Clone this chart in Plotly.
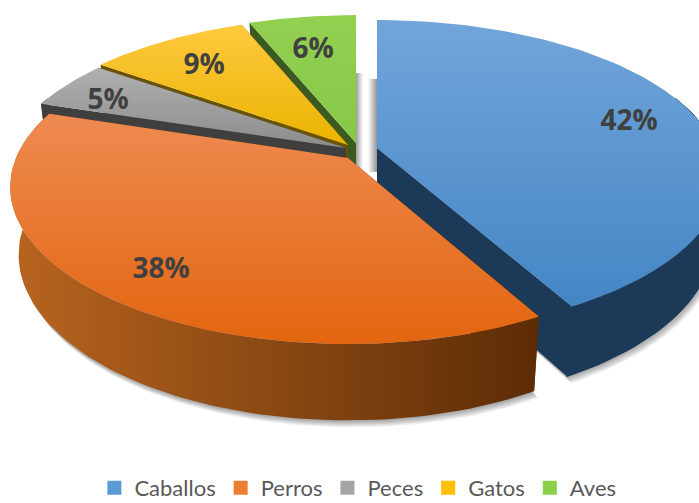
import numpy as np
import plotly.graph_objects as go

categories = ["Caballos", "Perros", "Peces", "Gatos", "Aves"]
shares = [42, 38, 5, 9, 6]

legend_colors = ["#5B9BD5", "#ED7D31", "#A5A5A5", "#FFC000", "#8CCF4D"]
top_grad = [("#72A5DA", "#4486C5"), ("#EE8B52", "#E3650F"), ("#B0B0B0", "#8C8C8C"),
            ("#FFC93F", "#E9B400"), ("#92D050", "#86C849")]
wall_grad = [("#1C3A58", "#1C3A58"), ("#B8641F", "#5C2C06"), ("#3F3F3F", "#3F3F3F"),
             ("#6B5300", "#6B5300"), ("#3B5A20", "#3B5A20")]
apex = [(377, 148), (348, 158), (346, 148), (348, 145), (356, 143)]
widths = [339.0, 332.0, 339.0, 339.0, 339.0]
drops = [62.0, 66.0, 66.0, 66.0, 66.0]
label_pos = [(629, 123), (161, 271), (108, 102), (204, 67), (313, 51)]
draw_order = [4, 3, 2, 0, 1]

B, K = 151.6, 0.185     # ellipse half-axis and perspective strength
SHRINK = 0.975          # extrusion narrowing

def project(i, theta, lower=False):
    cx, cy = apex[i]
    u, v = np.sin(theta), np.cos(theta)
    s = 1.0 / (1.0 + K * v)
    dx, dy = widths[i] * u * s, -B * v * s
    if lower:
        return cx + dx * SHRINK, cy + dy * SHRINK + drops[i] * s
    return cx + dx, cy + dy

def apex_lower(i):
    cx, cy = apex[i]
    return cx, cy + drops[i]

edges = np.cumsum([0] + shares) / sum(shares) * 2 * np.pi
fig = go.Figure()

def poly(xs, ys, c0, c1=None, kind="vertical", stroke=False):
    xs, ys = list(xs), list(ys)
    tr = dict(x=xs + xs[:1], y=ys + ys[:1], mode="lines", line=dict(width=0),
              fill="toself", hoverinfo="skip", showlegend=False)
    if c1 is None or c1 == c0:
        tr["fillcolor"] = c0
        if stroke:
            tr["line"] = dict(width=1, color=c0)
    else:
        lo, hi = (min(xs), max(xs)) if kind == "horizontal" else (min(ys), max(ys))
        tr["fillgradient"] = dict(type=kind, start=lo, stop=hi, colorscale=[[0, c0], [1, c1]])
    fig.add_trace(go.Scatter(**tr))

# soft shadow below the wedges
for off in [7, 6, 5, 4, 3, 2, 1]:
    for i in (0, 1):
        th = np.linspace(edges[i], edges[i + 1], 90)
        pts = [project(i, t, True) for t in th]
        ax, ay = apex_lower(i)
        poly([p[0] + off * 0.6 for p in pts] + [ax], [p[1] + off for p in pts] + [ay],
             "rgba(0,0,0,0.055)")

# shadows in the gap between the green and blue wedges
poly([356, 363, 363, 356], [73, 73, 170, 170], "rgba(90,90,90,0.6)", "rgba(90,90,90,0)", "horizontal")
poly([368, 377, 377, 368], [79, 79, 172, 172], "rgba(90,90,90,0)", "rgba(90,90,90,0.65)", "horizontal")

for i in draw_order:
    th = np.linspace(edges[i], edges[i + 1], 90)
    top = [project(i, t) for t in th]
    low = [project(i, t, True) for t in th]
    ax, ay = apex[i]
    bx, by = apex_lower(i)
    # cut faces
    for e in (0, -1):
        poly([ax, top[e][0], low[e][0], bx], [ay, top[e][1], low[e][1], by],
             wall_grad[i][1] if i == 1 else wall_grad[i][0])
    # outer wall, front-facing part only
    front = [t for t in th if np.cos(t) < 0.35]
    if len(front) > 1:
        ftop = [project(i, t) for t in front]
        flow = [project(i, t, True) for t in front]
        poly([p[0] for p in ftop] + [p[0] for p in flow[::-1]],
             [p[1] for p in ftop] + [p[1] for p in flow[::-1]],
             wall_grad[i][0], wall_grad[i][1], "horizontal", stroke=(i == 0))
    # top
    poly([ax] + [p[0] for p in top], [ay] + [p[1] for p in top], top_grad[i][0], top_grad[i][1])

fig.add_trace(go.Scatter(
    x=[p[0] for p in label_pos], y=[p[1] for p in label_pos], mode="text",
    text=[f"{v}%" for v in shares],
    textfont=dict(family="Open Sans", size=28, color="#404040", weight="bold"),
    hoverinfo="skip", showlegend=False))

for name, col in zip(categories, legend_colors):
    fig.add_trace(go.Scatter(x=[None], y=[None], mode="markers", name=name,
                             marker=dict(symbol="square", size=14, color=col)))

fig.update_layout(
    width=699, height=503, margin=dict(l=0, r=0, t=0, b=0, autoexpand=False),
    paper_bgcolor="white", plot_bgcolor="white",
    xaxis=dict(range=[0, 699], visible=False, fixedrange=True),
    yaxis=dict(range=[503, 0], visible=False, fixedrange=True),
    legend=dict(orientation="h", x=0.512, xanchor="center", y=0.03, yanchor="middle",
                font=dict(family="Lato", size=22, color="#595959"),
                itemwidth=30, bgcolor="rgba(0,0,0,0)"),
)
fig.write_html("out.html", config={"displayModeBar": False},
               post_script="document.body.style.margin='0';document.documentElement.style.overflow='hidden';")
